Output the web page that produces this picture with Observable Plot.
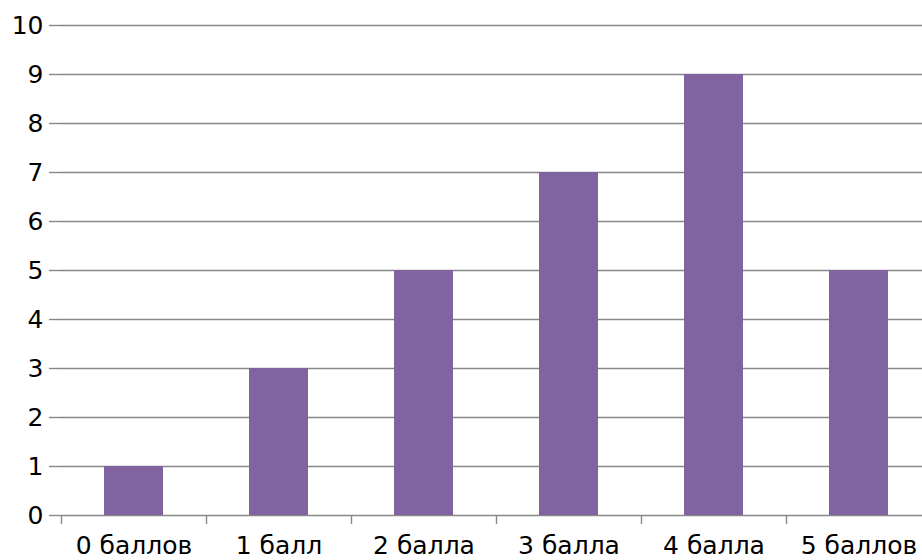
<!DOCTYPE html>
<html><head><meta charset="utf-8">
<script src="https://cdn.jsdelivr.net/npm/d3@7"></script>
<script src="https://cdn.jsdelivr.net/npm/@observablehq/plot@0.6"></script>
<style>html,body{margin:0;padding:0;background:#fff;overflow:hidden}</style>
</head><body><div id="chart"></div>
<script>
const categories = ["0 баллов", "1 балл", "2 балла", "3 балла", "4 балла", "5 баллов"];
const counts = [1, 3, 5, 7, 9, 5];
const yTicks = [0, 1, 2, 3, 4, 5, 6, 7, 8, 9, 10];

const data = categories.map((c, i) => ({cat: c, n: counts[i]}));
const W = 922, H = 560, mL = 61, mR = -9, mT = 25, mB = 45;
const step = (W - mR - mL) / categories.length;
const gridColor = "#888888";

const chart = Plot.plot({
  width: W, height: H,
  marginLeft: mL, marginRight: mR, marginTop: mT, marginBottom: mB,
  style: {fontFamily: "DejaVu Sans", fontSize: "25px", color: "#000", background: "#fff", overflow: "hidden"},
  x: {domain: categories, padding: 0, label: null},
  y: {domain: [0, 10], label: null},
  marks: [
    Plot.gridY(yTicks, {stroke: gridColor, strokeOpacity: 1, strokeWidth: 1.4}),
    Plot.axisY(yTicks, {tickSize: 12, tickPadding: 6, stroke: gridColor, strokeWidth: 1.4, label: null, fill: "#000"}),
    Plot.barY(data, {x: "cat", y: "n", fill: "#8064A2", insetLeft: 43, insetRight: 43}),
    Plot.ruleX([0], {frameAnchor: "left", stroke: gridColor, strokeWidth: 1.4}),
    Plot.axisX({tickSize: 9, dx: -step / 2, tickFormat: () => "", stroke: gridColor, strokeWidth: 1.4, label: null}),
    Plot.axisX({tickSize: 0, tickPadding: 21, label: null, fill: "#000"})
  ]
});
document.getElementById("chart").appendChild(chart);
</script></body></html>
